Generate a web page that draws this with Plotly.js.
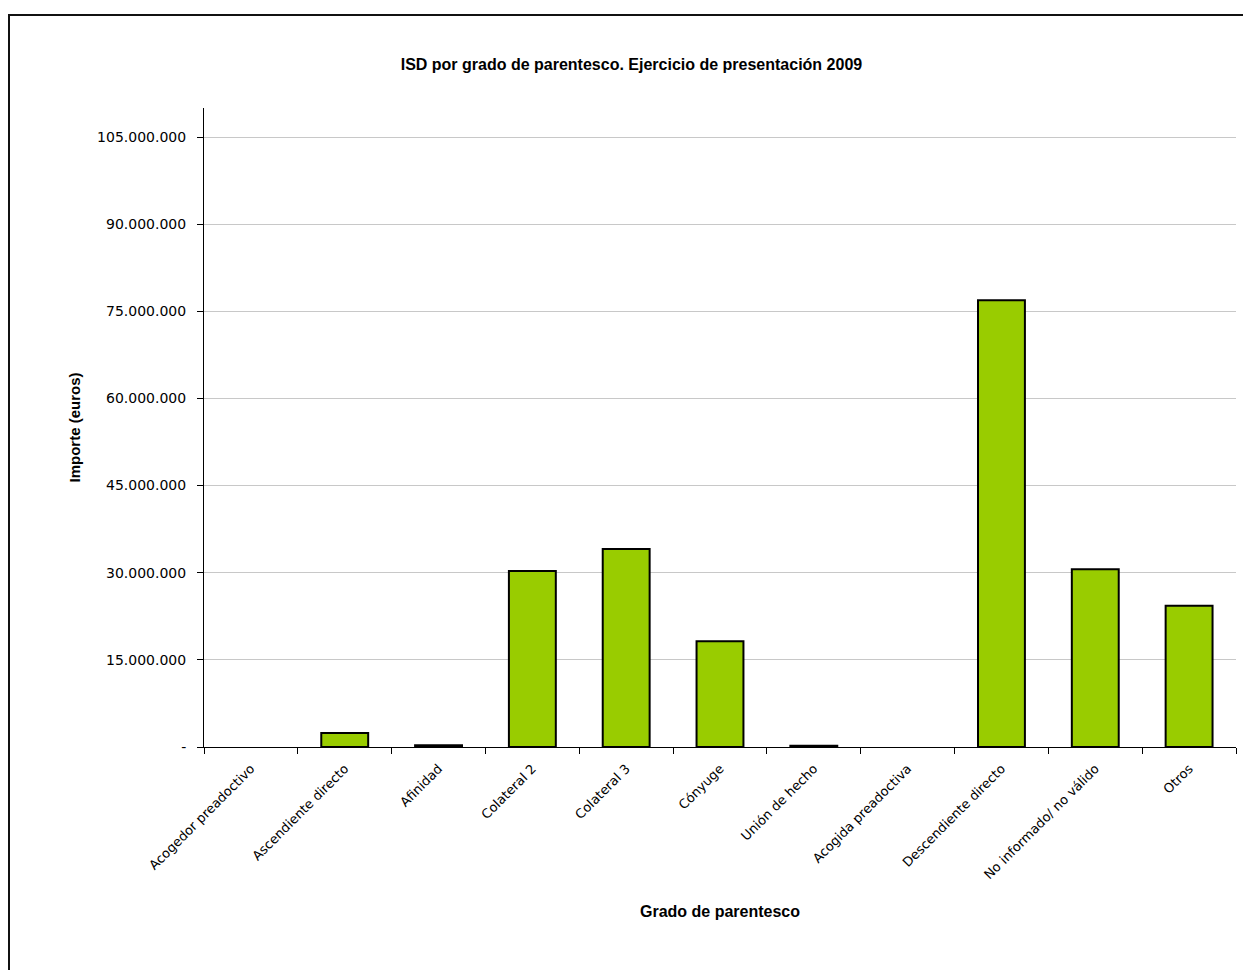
<!DOCTYPE html>
<html><head><meta charset="utf-8">
<script src="https://cdn.plot.ly/plotly-3.0.1.min.js"></script>
<style>
body{margin:0;padding:0;background:#fff;}
#wrap{position:relative;width:1243px;height:970px;overflow:hidden;}
#chart{position:absolute;left:0;top:0;width:1243px;height:970px;}
#frame{position:absolute;left:8px;top:14px;width:1300px;height:1000px;border:2px solid #111;pointer-events:none;box-sizing:border-box;}
</style></head>
<body>
<div id="wrap"><div id="chart"></div><div id="frame"></div></div>
<script>
const categories = ["Acogedor preadoctivo","Ascendiente directo","Afinidad","Colateral 2","Colateral 3","Cónyuge","Unión de hecho","Acogida preadoctiva","Descendiente directo","No informado/ no válido","Otros"];
const values = [0, 2400000, 300000, 30300000, 34100000, 18200000, 200000, 0, 76900000, 30600000, 24300000];
const tickVals = [0, 15000000, 30000000, 45000000, 60000000, 75000000, 90000000, 105000000];
const tickText = ["-", "15.000.000", "30.000.000", "45.000.000", "60.000.000", "75.000.000", "90.000.000", "105.000.000"];

const font = "DejaVu Sans, Verdana, sans-serif";
const boldFont = "Liberation Sans, Arial, sans-serif";
Plotly.newPlot('chart', [{
  type: 'bar', x: categories, y: values, width: 0.5,
  marker: {color: '#99CC00', line: {color: '#000', width: values.map(v => v > 0 ? 2 : 0)}},
  hoverinfo: 'x+y'
}], {
  width: 1243, height: 970,
  margin: {l: 204, r: 7, t: 108, b: 223},
  paper_bgcolor: '#fff', plot_bgcolor: '#fff',
  showlegend: false,
  title: {text: 'ISD por grado de parentesco. Ejercicio de presentación 2009', x: 0.508, xanchor: 'center', y: 0.934, yanchor: 'middle',
          font: {family: boldFont, size: 16, color: '#000', weight: 'bold'}},
  xaxis: {
    showline: true, linecolor: '#000', linewidth: 1, ticks: 'outside', ticklen: 6, tickcolor: '#000',
    tickangle: -45, tickfont: {family: font, size: 13, color: '#000'}, ticklabelstandoff: 8,
    tickson: 'boundaries', showgrid: false,
    title: {text: 'Grado de parentesco', font: {family: boldFont, size: 16, color: '#000', weight: 'bold'}, standoff: 24}
  },
  yaxis: {
    range: [0, 110000000], tickvals: tickVals, ticktext: tickText,
    showline: true, linecolor: '#000', linewidth: 1, ticks: 'outside', ticklen: 6, tickcolor: '#000',
    ticklabelstandoff: 8,
    showgrid: true, gridcolor: '#c8c8c8', gridwidth: 1, zeroline: false,
    tickfont: {family: font, size: 14, color: '#000'},
    title: {text: 'Importe (euros)', font: {family: boldFont, size: 15, color: '#000', weight: 'bold'}, standoff: 12}
  }
}, {displayModeBar: false});
</script>
</body></html>
